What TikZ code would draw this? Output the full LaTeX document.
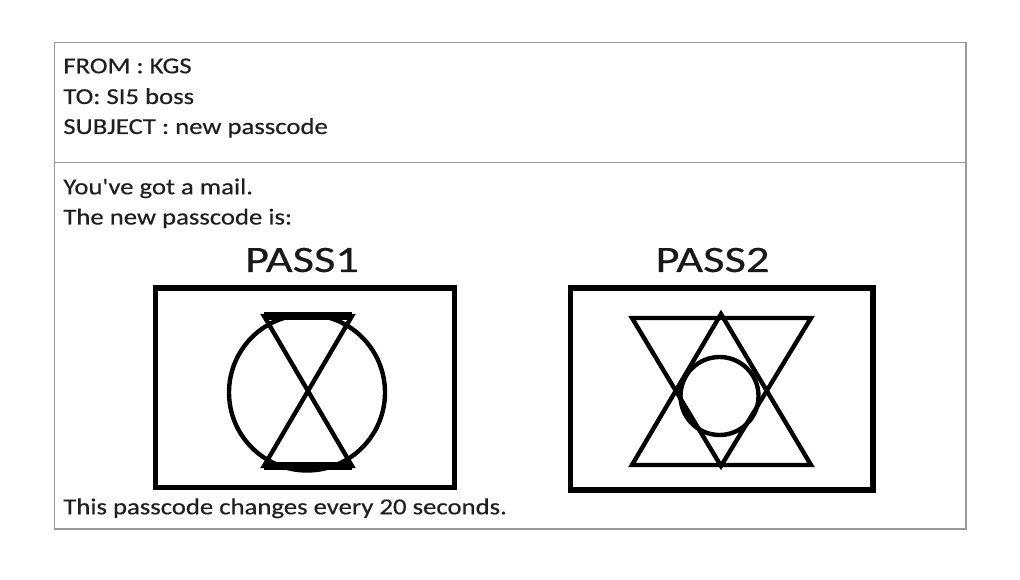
\documentclass[tikz,border=0pt]{standalone}
\usepackage{fontspec}
\newfontfamily\mailfont[FakeStretch=1.17,FakeBold=0.4]{Carlito}
\newfontfamily\passfont[FakeStretch=1.25,FakeBold=0.4]{Carlito}
\begin{document}
\begin{tikzpicture}[x=0.02cm,y=-0.02cm,
    mailtext/.style={anchor=base west,inner sep=0pt,text=black!88,font=\mailfont\fontsize{13}{15}\selectfont},
    passlabel/.style={anchor=base,inner sep=0pt,text=black!90,font=\passfont\fontsize{21.2}{24}\selectfont},
    passbox/.style={line width=3.1pt},
    glyph/.style={line width=2.5pt,line join=miter}]
    \useasboundingbox (0,0) rectangle (1020,580);
    % Mail frame
    \draw[black!40,line width=0.6pt] (54.5,42.5) rectangle (966,529);
    \draw[black!40,line width=0.6pt] (54.5,162.5) -- (966,162.5);
    % Header
    \node[mailtext] (from) at (63,73.3) {FROM : KGS};
    \node[mailtext] (to) at (63,104) {TO: SI5 boss};
    \node[mailtext] (subject) at (63,134) {SUBJECT : new passcode};
    % Body
    \node[mailtext] (got) at (63,194.3) {You've got a mail.};
    \node[mailtext] (newcode) at (63,224.5) {The new passcode is:};
    \node[mailtext] (changes) at (63,514.3) {This passcode changes every 20 seconds.};
    % PASS1
    \node[passlabel] (pass1) at (302,272) {PASS1};
    \begin{scope}[shift={(305,388)}]
        \draw[passbox] (-149.5,-100) rectangle (149.5,99.5);
        \draw[glyph] (2,4.5) circle (78);
        \draw[glyph] (-41,-72) -- (47,-72) -- (-41,78) -- (47,78) -- cycle;
        \draw[line width=4.4pt] (-41,-72) -- (47,-72);
        \draw[line width=4.4pt] (-41,78) -- (47,78);
    \end{scope}
    % PASS2
    \node[passlabel] (pass2) at (712.5,272) {PASS2};
    \begin{scope}[shift={(721.75,389)}]
        \draw[passbox] (-151.25,-101) rectangle (151.25,101);
        \draw[glyph] (-89.75,-71) -- (89.25,-71) -- (-0.75,77) -- cycle;
        \draw[glyph] (-0.75,-75) -- (-89.75,76) -- (89.25,76) -- cycle;
        \draw[glyph] (-2.25,7) circle (39);
    \end{scope}
\end{tikzpicture}
\end{document}
